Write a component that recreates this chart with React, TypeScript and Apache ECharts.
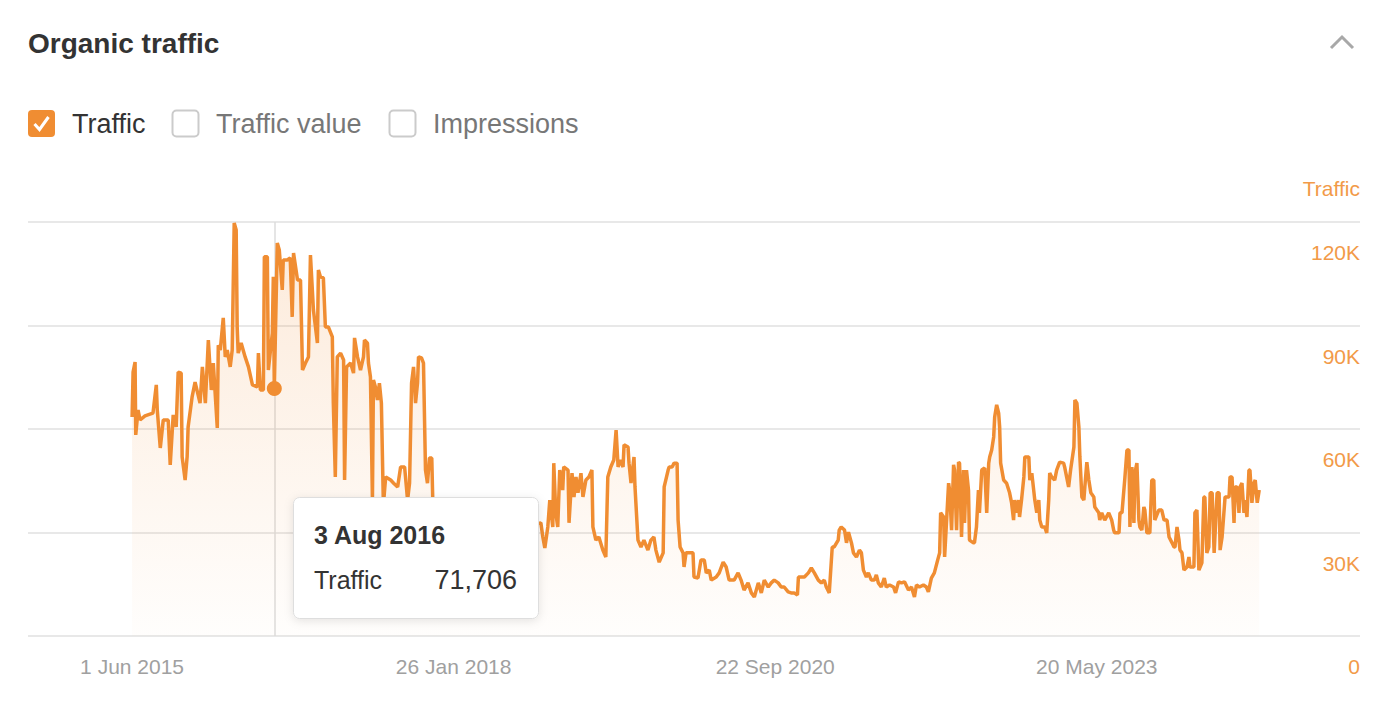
import React, { useEffect, useRef } from "react";
import * as echarts from "echarts";

// Series start date; points are [days since start, organic traffic]
const startDate = "2015-06-01";
const trafficPoints: [number, number][] = [
  [0,63500],[3,76500],[9,79400],[11,58300],[18,65500],[24,62600],[39,63800],[54,64300],[63,64600],[73,72800],[76,65500],[85,54500],[94,62600],[109,62600],[115,49600],[124,64100],[133,60600],[139,76500],[148,76200],[151,51900],[160,45200],[166,51900],[169,60600],[181,69300],[190,73600],[205,67500],[212,78000],[221,67500],[230,85800],[239,71300],[245,79100],[257,60300],[260,84300],[266,82900],[275,92200],[281,80900],[287,82900],[296,78000],[302,82900],[308,119700],[314,117700],[317,89600],[320,82000],[329,84900],[341,80900],[351,78000],[363,72800],[378,72200],[381,82000],[387,71300],[396,71300],[399,109900],[408,109900],[411,77100],[423,87800],[426,104100],[429,71706],[438,113900],[444,111900],[453,100300],[456,109000],[468,109000],[477,109600],[483,92500],[487,111000],[499,103200],[508,103200],[514,77100],[523,79100],[532,80900],[538,110400],[547,94500],[559,84900],[562,106100],[568,104100],[577,103800],[583,89600],[592,89600],[604,86700],[607,67500],[613,46100],[619,80900],[629,82000],[638,80000],[641,45200],[647,78000],[659,79100],[668,76200],[671,86400],[680,80900],[689,77100],[698,80900],[701,85800],[710,84900],[713,79100],[719,75100],[725,39400],[728,74200],[734,72200],[740,68400],[746,73300],[752,67500],[758,38000],[765,46100],[780,45200],[789,44300],[801,43200],[810,49000],[822,49000],[831,39400],[837,44300],[843,73300],[849,78000],[855,67500],[861,73300],[864,80900],[873,80600],[879,79100],[885,48100],[891,44300],[897,51600],[904,51600],[907,39400],[931,36500],[961,33600],[991,38000],[1021,35100],[1052,32200],[1082,35900],[1112,33600],[1142,30700],[1172,35100],[1203,32200],[1233,32800],[1239,28700],[1245,25500],[1254,31600],[1260,39400],[1269,31600],[1272,50100],[1278,35700],[1284,31600],[1290,48100],[1299,42300],[1302,49000],[1315,48100],[1318,32800],[1327,47200],[1333,40300],[1339,46100],[1345,41500],[1354,47200],[1360,40300],[1369,45200],[1378,46100],[1387,48100],[1390,31600],[1399,27800],[1408,28700],[1420,24900],[1429,22900],[1435,46100],[1444,49000],[1453,51000],[1460,59700],[1466,49000],[1472,51000],[1481,49000],[1484,55400],[1496,54800],[1499,50100],[1505,44300],[1514,51900],[1517,43200],[1526,27800],[1535,25800],[1544,27800],[1556,24900],[1565,27800],[1574,28700],[1580,24900],[1590,21400],[1602,24100],[1605,43200],[1617,48100],[1620,49000],[1629,49000],[1635,50100],[1644,50100],[1647,33600],[1653,25800],[1662,24100],[1665,20000],[1671,24100],[1680,24100],[1692,24100],[1695,17100],[1707,16800],[1716,22000],[1726,22000],[1732,18300],[1741,19100],[1747,16200],[1762,17100],[1771,18300],[1783,21400],[1792,20000],[1801,16200],[1816,16200],[1828,18300],[1837,16200],[1846,13300],[1858,15400],[1868,12500],[1877,11300],[1889,15400],[1898,12500],[1907,16200],[1919,14200],[1928,15400],[1937,16200],[1949,15400],[1958,14200],[1967,14200],[1979,12800],[1988,12500],[1997,12500],[2007,11900],[2010,17100],[2019,17100],[2028,17100],[2040,18300],[2049,19700],[2058,18300],[2070,16200],[2079,15400],[2088,16200],[2094,14200],[2103,12500],[2112,25800],[2118,25800],[2130,27800],[2133,30700],[2139,31600],[2149,30700],[2155,27000],[2161,30100],[2170,27000],[2176,24100],[2185,22900],[2194,24900],[2200,24100],[2206,19100],[2215,17100],[2221,18300],[2230,16200],[2239,16200],[2245,17700],[2251,15400],[2260,14200],[2269,16800],[2275,14200],[2285,14800],[2297,14200],[2303,12500],[2312,15700],[2321,15400],[2330,15700],[2342,13300],[2351,14200],[2360,11300],[2366,14800],[2375,14200],[2387,14800],[2396,14200],[2402,12800],[2411,16800],[2420,18300],[2430,22000],[2436,24100],[2439,35700],[2448,34500],[2451,22900],[2457,33600],[2463,44300],[2466,42300],[2472,30700],[2478,49600],[2481,48100],[2487,30700],[2493,50400],[2496,50100],[2502,28700],[2508,48100],[2511,32800],[2517,48100],[2523,42300],[2526,27800],[2538,27000],[2541,27000],[2547,31600],[2553,42300],[2556,35700],[2563,48100],[2572,48700],[2578,35700],[2584,50100],[2587,51900],[2593,53900],[2599,57700],[2602,63500],[2608,67000],[2614,64600],[2617,60600],[2620,50100],[2629,45200],[2638,44300],[2647,41500],[2653,38600],[2659,33600],[2662,39400],[2668,35700],[2674,39400],[2677,34500],[2683,39400],[2690,46100],[2693,51900],[2705,51900],[2708,45200],[2714,47200],[2723,39400],[2729,35700],[2735,39400],[2738,33600],[2744,31600],[2753,31600],[2759,29900],[2765,39400],[2768,47200],[2774,46100],[2783,45200],[2789,48100],[2798,50400],[2810,50100],[2813,49000],[2819,46100],[2825,43200],[2831,48100],[2841,54800],[2844,68400],[2850,67500],[2856,60600],[2859,51900],[2865,40300],[2871,39400],[2874,43200],[2880,50400],[2886,45200],[2892,41500],[2901,40300],[2904,37400],[2916,35700],[2919,33600],[2925,35700],[2934,33600],[2946,35700],[2955,33600],[2961,30700],[2964,29900],[2977,29900],[2980,35700],[2986,35700],[2995,46100],[3001,53900],[3007,53900],[3010,31600],[3016,49000],[3022,32800],[3025,47200],[3031,50100],[3037,33600],[3040,31600],[3046,30700],[3052,37400],[3055,36500],[3061,29900],[3070,29900],[3076,45200],[3082,45200],[3085,33600],[3097,36500],[3106,36500],[3113,33600],[3122,33600],[3128,28700],[3137,27000],[3143,25800],[3146,25800],[3152,31600],[3158,27800],[3161,24900],[3167,24100],[3173,19100],[3182,20000],[3188,22900],[3191,20000],[3203,20000],[3206,35700],[3212,36500],[3218,19100],[3227,21200],[3233,40300],[3236,40300],[3242,24100],[3248,25800],[3252,41500],[3258,41500],[3264,24100],[3273,41500],[3279,41500],[3282,24900],[3288,28700],[3297,40300],[3309,40300],[3312,46100],[3318,46100],[3324,32800],[3327,43200],[3333,43200],[3339,35700],[3342,43200],[3348,44300],[3354,35700],[3357,39400],[3363,34500],[3369,48100],[3372,48100],[3378,38600],[3384,44300],[3388,45200],[3394,38600],[3400,42300]
];

const xTickDates = ["2015-06-01", "2018-01-26", "2020-09-22", "2023-05-20"];
const xRangeDates = ["2014-07-22", "2025-07-22"];
const yTicks = [0, 30000, 60000, 90000, 120000];
const legendItems = ["Traffic", "Traffic value", "Impressions"];
const legendChecked = [true, false, false];
const highlightDay = 429; // 3 Aug 2016

const MONTHS = ["Jan","Feb","Mar","Apr","May","Jun","Jul","Aug","Sep","Oct","Nov","Dec"];
const DAY = 86400000;
const ORANGE = "#F08D32";
const LABEL_ORANGE = "#F29A48";
const FONT = "'Liberation Sans', Arial, Helvetica, sans-serif";
const TOP_Z = 100;

function fmtDate(v: number) {
  const d = new Date(v);
  return `${d.getUTCDate()} ${MONTHS[d.getUTCMonth()]} ${d.getUTCFullYear()}`;
}

export default function App() {
  const ref = useRef<HTMLDivElement>(null);
  useEffect(() => {
    document.body.style.margin = "0";
    if (!ref.current) return;
    const chart = echarts.init(ref.current, null, { renderer: "svg" });
    const start = Date.parse(startDate);
    const data = trafficPoints.map(([d, v]) => [start + d * DAY, v]);
    const hl = trafficPoints.find((p) => p[0] === highlightDay)!;
    const hlTime = start + hl[0] * DAY;

    const legendX = [28, 172, 389];
    const legendGraphics: any[] = [];
    legendItems.forEach((name, i) => {
      const x = legendX[i];
      if (legendChecked[i]) {
        legendGraphics.push({
          type: "rect",
          shape: { x, y: 110, width: 27, height: 27, r: 4 },
          style: { fill: ORANGE },
        });
        legendGraphics.push({
          type: "polyline",
          shape: { points: [[x + 6.5, 124], [x + 11.5, 129.5], [x + 20.5, 117]] },
          style: { stroke: "#fff", lineWidth: 3, fill: null },
        });
      } else {
        legendGraphics.push({
          type: "rect",
          shape: { x: x + 0.5, y: 110.5, width: 26, height: 26, r: 4 },
          style: { fill: "#fff", stroke: "#cbcbcb", lineWidth: 2 },
        });
      }
      legendGraphics.push({
        type: "text",
        x: x + 44,
        y: 124,
        style: {
          text: name,
          fontSize: 27,
          fontFamily: FONT,
          fill: legendChecked[i] ? "#333" : "#777",
          verticalAlign: "middle",
        },
      });
    });

    chart.setOption({
      animation: false,
      textStyle: { fontFamily: FONT },
      grid: { left: 28, right: 24, top: 222, bottom: 66, containLabel: false },
      xAxis: {
        type: "value",
        min: Date.parse(xRangeDates[0]),
        max: Date.parse(xRangeDates[1]),
        axisLine: { show: false },
        axisTick: { show: false },
        splitLine: { show: false },
        axisLabel: {
          customValues: xTickDates.map((d) => Date.parse(d)),
          formatter: (v: number) => fmtDate(v),
          color: "#a0a0a0",
          fontSize: 21,
          margin: 20,
          fontFamily: FONT,
          showMinLabel: true,
          showMaxLabel: true,
          hideOverlap: false,
        },
      },
      yAxis: {
        type: "value",
        position: "right",
        min: yTicks[0],
        max: yTicks[yTicks.length - 1],
        interval: yTicks[1] - yTicks[0],
        name: "Traffic",
        nameLocation: "end",
        nameGap: 34,
        nameTextStyle: {
          color: LABEL_ORANGE,
          fontSize: 21,
          align: "right",
          verticalAlign: "middle",
          fontFamily: FONT,
        },
        axisLine: { show: false },
        axisTick: { show: false },
        splitLine: { lineStyle: { color: "#e8e8e8", width: 2 } },
        axisLabel: {
          inside: true,
          margin: 0,
          color: LABEL_ORANGE,
          fontSize: 21,
          fontFamily: FONT,
          verticalAlign: "top",
          padding: [20, 0, 0, 0],
          formatter: (v: number) => (v === 0 ? "0" : `${v / 1000}K`),
        },
      },
      series: [
        {
          type: "line",
          data,
          symbol: "none",
          lineStyle: { color: ORANGE, width: 3.5 },
          itemStyle: { color: ORANGE },
          areaStyle: {
            color: new echarts.graphic.LinearGradient(0, 0, 0, 1, [
              { offset: 0, color: "rgba(240,141,50,0.26)" },
              { offset: 1, color: "rgba(240,141,50,0.02)" },
            ]),
          },
          markLine: {
            silent: true,
            symbol: "none",
            label: { show: false },
            lineStyle: { color: "#dcdcdc", width: 1.5, type: "solid" },
            data: [{ xAxis: hlTime }],
            z: 1,
          },
          markPoint: {
            silent: true,
            symbol: "circle",
            symbolSize: 15,
            itemStyle: { color: ORANGE },
            label: { show: false },
            data: [{ coord: [hlTime, hl[1]] }],
          },
        },
      ],
      graphic: {
        elements: [
          {
            type: "text",
            x: 28,
            y: 43,
            style: {
              text: "Organic traffic",
              fontSize: 28,
              fontWeight: "bold",
              fontFamily: FONT,
              fill: "#333",
              verticalAlign: "middle",
            },
          },
          {
            type: "polyline",
            shape: { points: [[1331, 48], [1342, 37], [1353, 48]] },
            style: { stroke: "#a8a8a8", lineWidth: 3, fill: null },
          },
          ...legendGraphics,
          {
            type: "rect",
            z: TOP_Z,
            zlevel: 1,
            shape: { x: 293.5, y: 497.5, width: 245, height: 121, r: 6 },
            style: {
              fill: "#fff",
              stroke: "#dedede",
              lineWidth: 1,
              shadowBlur: 10,
              shadowColor: "rgba(0,0,0,0.10)",
              shadowOffsetY: 2,
            },
          },
          {
            type: "text",
            z: TOP_Z + 1,
            zlevel: 1,
            x: 314,
            y: 535,
            style: {
              text: fmtDate(hlTime),
              fontSize: 25,
              fontWeight: "bold",
              fontFamily: FONT,
              fill: "#333",
              verticalAlign: "middle",
            },
          },
          {
            type: "text",
            z: TOP_Z + 1,
            zlevel: 1,
            x: 314,
            y: 580,
            style: {
              text: "Traffic",
              fontSize: 25,
              fontFamily: FONT,
              fill: "#333",
              verticalAlign: "middle",
            },
          },
          {
            type: "text",
            z: TOP_Z + 1,
            zlevel: 1,
            x: 517,
            y: 580,
            style: {
              text: hl[1].toLocaleString("en-US"),
              fontSize: 27,
              fontFamily: FONT,
              fill: "#333",
              align: "right",
              verticalAlign: "middle",
            },
          },
        ],
      },
    });
    return () => chart.dispose();
  }, []);
  return <div ref={ref} style={{ width: 1384, height: 702 }} />;
}
